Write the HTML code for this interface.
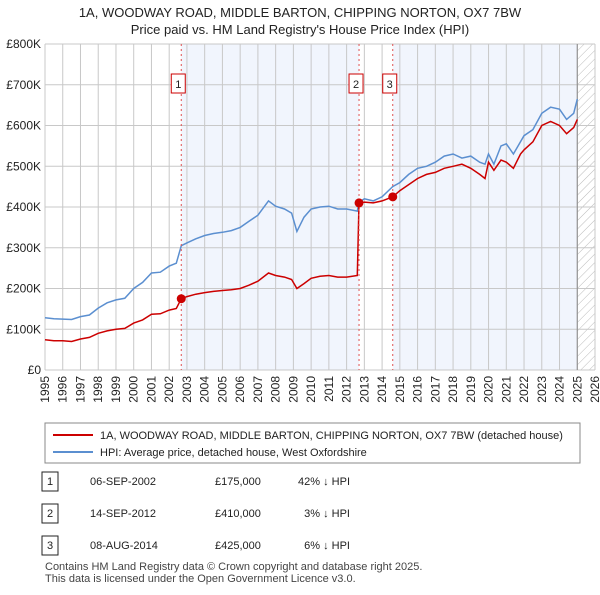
<!DOCTYPE html>
<html><head><meta charset="utf-8"><style>
body{margin:0;background:#fff;font-family:"Liberation Sans",sans-serif;}
svg text{font-family:"Liberation Sans",sans-serif;}
</style></head><body>
<svg id="c" width="600" height="590" xmlns="http://www.w3.org/2000/svg">
<defs><pattern id="hatch" width="6" height="6" patternUnits="userSpaceOnUse" patternTransform="rotate(45)"><line x1="0" y1="0" x2="0" y2="6" stroke="#bbb" stroke-width="1"/></pattern></defs>
<text x="300" y="17" text-anchor="middle" font-size="13" fill="#222">1A, WOODWAY ROAD, MIDDLE BARTON, CHIPPING NORTON, OX7 7BW</text>
<text x="300" y="34" text-anchor="middle" font-size="13" fill="#222">Price paid vs. HM Land Registry's House Price Index (HPI)</text>
<g id="plot"></g>
<g id="legend">
<rect x="45" y="423" width="535" height="40" fill="#fff" stroke="#888"/>
<line x1="53" y1="435" x2="93" y2="435" stroke="#cc0000" stroke-width="2"/>
<text x="100" y="439" font-size="11" fill="#222">1A, WOODWAY ROAD, MIDDLE BARTON, CHIPPING NORTON, OX7 7BW (detached house)</text>
<line x1="53" y1="452" x2="93" y2="452" stroke="#5b8fd0" stroke-width="2"/>
<text x="100" y="456" font-size="11" fill="#222">HPI: Average price, detached house, West Oxfordshire</text>
</g>
<g id="table" font-size="11" fill="#222"></g>
<text x="45" y="570" font-size="11" fill="#444">Contains HM Land Registry data © Crown copyright and database right 2025.</text>
<text x="45" y="582" font-size="11" fill="#444">This data is licensed under the Open Government Licence v3.0.</text>
</svg>
<script>
const dates=[1995,1995.5,1996,1996.5,1997,1997.5,1998,1998.5,1999,1999.5,2000,2000.5,2001,2001.5,2002,2002.4,2002.68,2003,2003.5,2004,2004.5,2005,2005.5,2006,2006.5,2007,2007.6,2008,2008.5,2008.9,2009.2,2009.6,2010,2010.5,2011,2011.5,2012,2012.6,2012.7,2013,2013.5,2014,2014.6,2015,2015.5,2016,2016.5,2017,2017.5,2018,2018.5,2019,2019.5,2019.8,2020,2020.3,2020.7,2021,2021.4,2021.8,2022,2022.5,2023,2023.5,2024,2024.4,2024.8,2025];
const hpiValues=[128,126,125,124,131,135,152,165,172,176,200,215,238,240,255,262,305,312,322,330,335,338,342,350,365,380,415,402,395,385,340,375,395,400,402,395,395,390,412,420,415,425,450,460,480,495,500,510,525,530,520,525,510,505,530,505,550,555,530,560,575,590,630,645,640,615,630,665];
const priceValues=[74,72,72,70,76,80,90,96,100,102,115,123,137,138,147,151,175,180,186,190,193,195,197,200,208,218,238,232,228,222,200,212,225,230,232,228,228,232,410,412,410,415,425,440,455,470,480,485,495,500,505,495,480,470,510,490,515,510,495,530,540,560,600,610,600,580,595,615];
const saleDates=[2002.68,2012.7,2014.6];
const saleValues=[175,410,425];
const saleLabels=["1","2","3"];
const saleDateText=["06-SEP-2002","14-SEP-2012","08-AUG-2014"];
const salePriceText=["£175,000","£410,000","£425,000"];
const saleHpiText=["42% ↓ HPI","3% ↓ HPI","6% ↓ HPI"];
const yTicks=[0,100,200,300,400,500,600,700,800];
const yTickLabels=["£0","£100K","£200K","£300K","£400K","£500K","£600K","£700K","£800K"];
const xYears=[1995,1996,1997,1998,1999,2000,2001,2002,2003,2004,2005,2006,2007,2008,2009,2010,2011,2012,2013,2014,2015,2016,2017,2018,2019,2020,2021,2022,2023,2024,2025,2026];

const X0=45,X1=595,Y0=370,Y1=44;
const xs=d=>X0+(d-1995)/(2026-1995)*(X1-X0);
const ys=v=>Y0-v/800*(Y0-Y1);
const NS="http://www.w3.org/2000/svg";
const plot=document.getElementById('plot');
function mk(tag,attrs,parent){const e=document.createElementNS(NS,tag);for(const k in attrs)e.setAttribute(k,attrs[k]);(parent||plot).appendChild(e);return e;}

let r=mk('rect',{x:X0,y:Y1,width:X1-X0,height:Y0-Y1,fill:'#fff'});


r=mk('rect',{x:xs(saleDates[0]),y:Y1,width:xs(saleDates[1])-xs(saleDates[0]),height:Y0-Y1,fill:'#eef3fc',opacity:0.8});


r=mk('rect',{x:xs(saleDates[2]),y:Y1,width:xs(2025)-xs(saleDates[2]),height:Y0-Y1,fill:'#eef3fc',opacity:0.8});


r=mk('rect',{x:xs(2025),y:Y1,width:X1-xs(2025),height:Y0-Y1,fill:'url(#hatch)'});



xYears.forEach(y=>{
  const l=mk('line',{x1:xs(y),x2:xs(y),y1:Y1,y2:Y0,stroke:'#c8c8c8','stroke-width':1});
  
  
  const t=mk('text',{x:0,y:0,'font-size':12,fill:'#222','text-anchor':'end',transform:`translate(${xs(y)+4},${Y0+6}) rotate(-90)`});
  t.textContent=y;
  
  
});
yTicks.forEach((v,i)=>{
  const l=mk('line',{x1:X0,x2:X1,y1:ys(v),y2:ys(v),stroke:'#c8c8c8','stroke-width':1});
  
  
  const t=mk('text',{x:X0-4,y:ys(v)+4,'font-size':12,fill:'#222','text-anchor':'end'});
  t.textContent=yTickLabels[i];
  
  
});
let vl=mk('line',{x1:xs(2025),x2:xs(2025),y1:Y1,y2:Y0,stroke:'#888','stroke-width':1});



const pts=(arr)=>dates.map((d,i)=>xs(d).toFixed(1)+','+ys(arr[i]).toFixed(1)).join(' ');
let hl=mk('polyline',{points:pts(hpiValues),fill:'none',stroke:'#5b8fd0','stroke-width':1.5});


let pl=mk('polyline',{points:pts(priceValues),fill:'none',stroke:'#cc0000','stroke-width':1.5});



const tbl=document.getElementById('table');
saleDates.forEach((d,i)=>{
  const l=mk('line',{x1:xs(d),x2:xs(d),y1:Y1,y2:Y0,stroke:'#e05050','stroke-width':1,'stroke-dasharray':'2,3'});
  
  
  const c=mk('circle',{cx:xs(d),cy:ys(saleValues[i]),r:4.5,fill:'#cc0000'});
  
  
  const bx=mk('rect',{x:xs(d)-10,y:74,width:14,height:19,fill:'#fff',stroke:'#cc0000'});
  
  
  const t=mk('text',{x:xs(d)-3,y:88,'font-size':11,'text-anchor':'middle',fill:'#222'});
  t.textContent=saleLabels[i];
  
  
  const ry=481+i*32;
  const b2=mk('rect',{x:42,y:ry-9,width:16,height:19,fill:'#fff',stroke:'#222'},tbl);
  
  
  const cells=[[50,saleLabels[i],'middle'],[90,saleDateText[i],'start'],[215,salePriceText[i],'start'],[350,saleHpiText[i],'end']];
  cells.forEach(([x,s,a])=>{
    const tt=mk('text',{x:x,y:ry+4,'text-anchor':a},tbl);
    tt.textContent=s;
    
    
  });
});
</script>
</body></html>
